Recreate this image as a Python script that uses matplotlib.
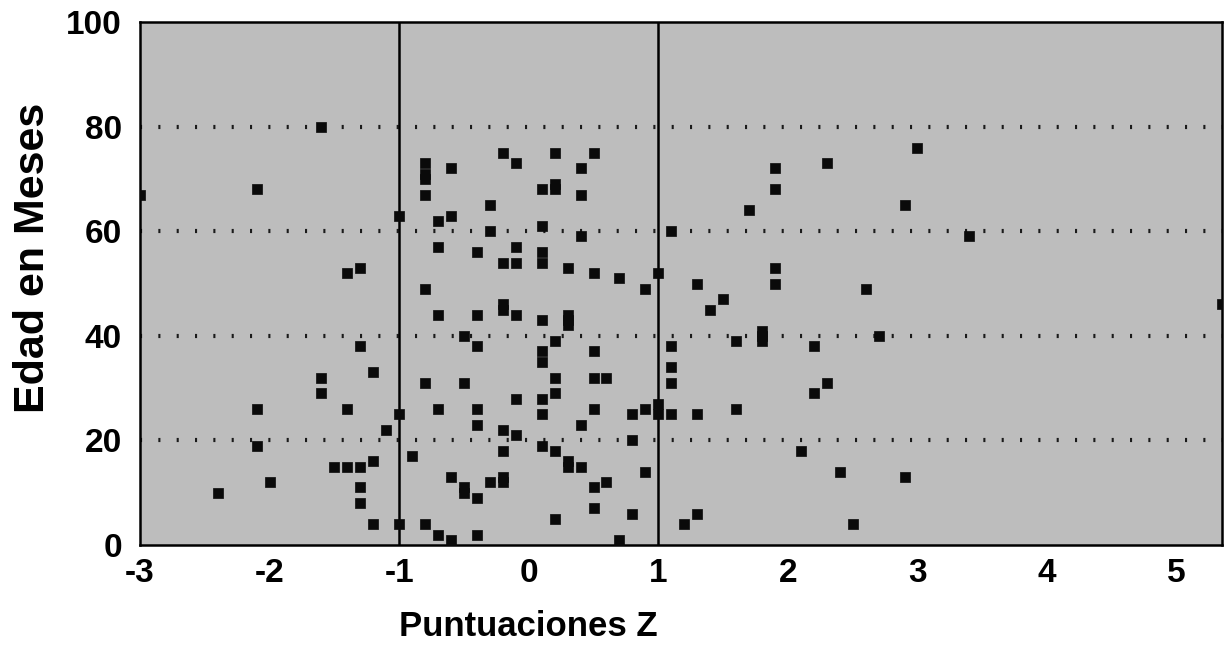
import matplotlib.pyplot as plt

# Puntuaciones Z frente a edad en meses
z_izq = [-3.0, -2.4, -2.1, -2.1, -2.1, -2.0, -1.6, -1.6, -1.6, -1.5, -1.4, -1.4, -1.4,
         -1.3, -1.3, -1.3, -1.3, -1.3, -1.2, -1.2, -1.2, -1.1, -1.0, -1.0, -1.0, -0.9]
edad_izq = [67, 10, 68, 26, 19, 12, 80, 32, 29, 15, 52, 26, 15,
            53, 38, 15, 11, 8, 33, 16, 4, 22, 63, 25, 4, 17]

z_centro = [-0.8, -0.8, -0.8, -0.8, -0.8, -0.8, -0.8,
            -0.7, -0.7, -0.7, -0.7, -0.7,
            -0.6, -0.6, -0.6, -0.6,
            -0.5, -0.5, -0.5, -0.5,
            -0.4, -0.4, -0.4, -0.4, -0.4, -0.4, -0.4,
            -0.3, -0.3, -0.3,
            -0.2, -0.2, -0.2, -0.2, -0.2, -0.2, -0.2, -0.2,
            -0.1, -0.1, -0.1, -0.1, -0.1, -0.1,
            0.1, 0.1, 0.1, 0.1, 0.1, 0.1, 0.1, 0.1, 0.1, 0.1,
            0.2, 0.2, 0.2, 0.2, 0.2, 0.2, 0.2, 0.2,
            0.3, 0.3, 0.3, 0.3, 0.3, 0.3,
            0.4, 0.4, 0.4, 0.4, 0.4,
            0.5, 0.5, 0.5, 0.5, 0.5, 0.5, 0.5,
            0.6, 0.6,
            0.7, 0.7,
            0.8, 0.8, 0.8,
            0.9, 0.9, 0.9,
            1.0, 1.0, 1.0]
edad_centro = [73, 71, 70, 67, 49, 31, 4,
               62, 57, 44, 26, 2,
               72, 63, 13, 1,
               40, 31, 11, 10,
               56, 44, 38, 26, 23, 9, 2,
               65, 60, 12,
               75, 54, 46, 45, 22, 18, 13, 12,
               73, 57, 54, 44, 28, 21,
               68, 61, 56, 54, 43, 37, 35, 28, 25, 19,
               75, 69, 68, 39, 32, 29, 18, 5,
               53, 44, 43, 42, 16, 15,
               72, 67, 59, 23, 15,
               75, 52, 37, 32, 26, 11, 7,
               32, 12,
               51, 1,
               25, 20, 6,
               49, 26, 14,
               52, 27, 25]

z_der = [1.1, 1.1, 1.1, 1.1, 1.1, 1.2, 1.3, 1.3, 1.3, 1.4, 1.5, 1.6, 1.6, 1.7,
         1.8, 1.8, 1.8, 1.9, 1.9, 1.9, 1.9, 2.1, 2.2, 2.2, 2.3, 2.3, 2.4, 2.5,
         2.6, 2.7, 2.9, 2.9, 3.0, 3.4, 5.35]
edad_der = [60, 38, 34, 31, 25, 4, 50, 25, 6, 45, 47, 39, 26, 64,
            41, 40, 39, 72, 68, 53, 50, 18, 38, 29, 73, 31, 14, 4,
            49, 40, 65, 13, 76, 59, 46]

z_scores = z_izq + z_centro + z_der
edad_meses = edad_izq + edad_centro + edad_der

limites_z = [-1, 1]
lineas_y = [20, 40, 60, 80]
ticks_x = [-3, -2, -1, 0, 1, 2, 3, 4, 5]
ticks_y = [0, 20, 40, 60, 80, 100]

fig = plt.figure(figsize=(12.3, 6.49), dpi=100)
ax = fig.add_axes([140 / 1230, 1 - 545 / 649, (1222 - 140) / 1230, (545 - 22) / 649])
ax.set_facecolor('#bdbdbd')

for yv in lineas_y:
    ax.axhline(yv, color='#1a1a1a', lw=3.0, ls=(0, (0.5, 3.9)), zorder=1)
for xv in limites_z:
    ax.axvline(xv, color='black', lw=1.8, zorder=2)

ax.scatter(z_scores, edad_meses, marker='s', s=60, color='#0a0a0a',
           edgecolors='#0a0a0a', linewidths=0.5, zorder=3)

ax.set_xlim(-3, 5.35)
ax.set_ylim(0, 100)
ax.set_xticks(ticks_x)
ax.set_yticks(ticks_y)
ax.set_xticklabels([str(t) for t in ticks_x])
ax.tick_params(length=0, labelsize=24, pad=9)
ax.tick_params(axis='y', pad=13)
for lab in ax.get_xticklabels() + ax.get_yticklabels():
    lab.set_fontfamily(['Liberation Sans', 'DejaVu Sans'])
    lab.set_fontweight('bold')

for sp in ax.spines.values():
    sp.set_linewidth(1.8)
    sp.set_color('black')

fig.text(528 / 1230, 1 - 626 / 649, 'Puntuaciones Z', ha='center', va='center',
         fontsize=25, fontweight='bold',
         family=['Liberation Sans', 'DejaVu Sans'])
fig.text(33 / 1230, 1 - 258 / 649, 'Edad en Meses', ha='center', va='center',
         rotation=90, fontsize=31, fontweight='bold',
         family=['Liberation Sans', 'DejaVu Sans'])

fig.savefig('out.png', dpi=100)
